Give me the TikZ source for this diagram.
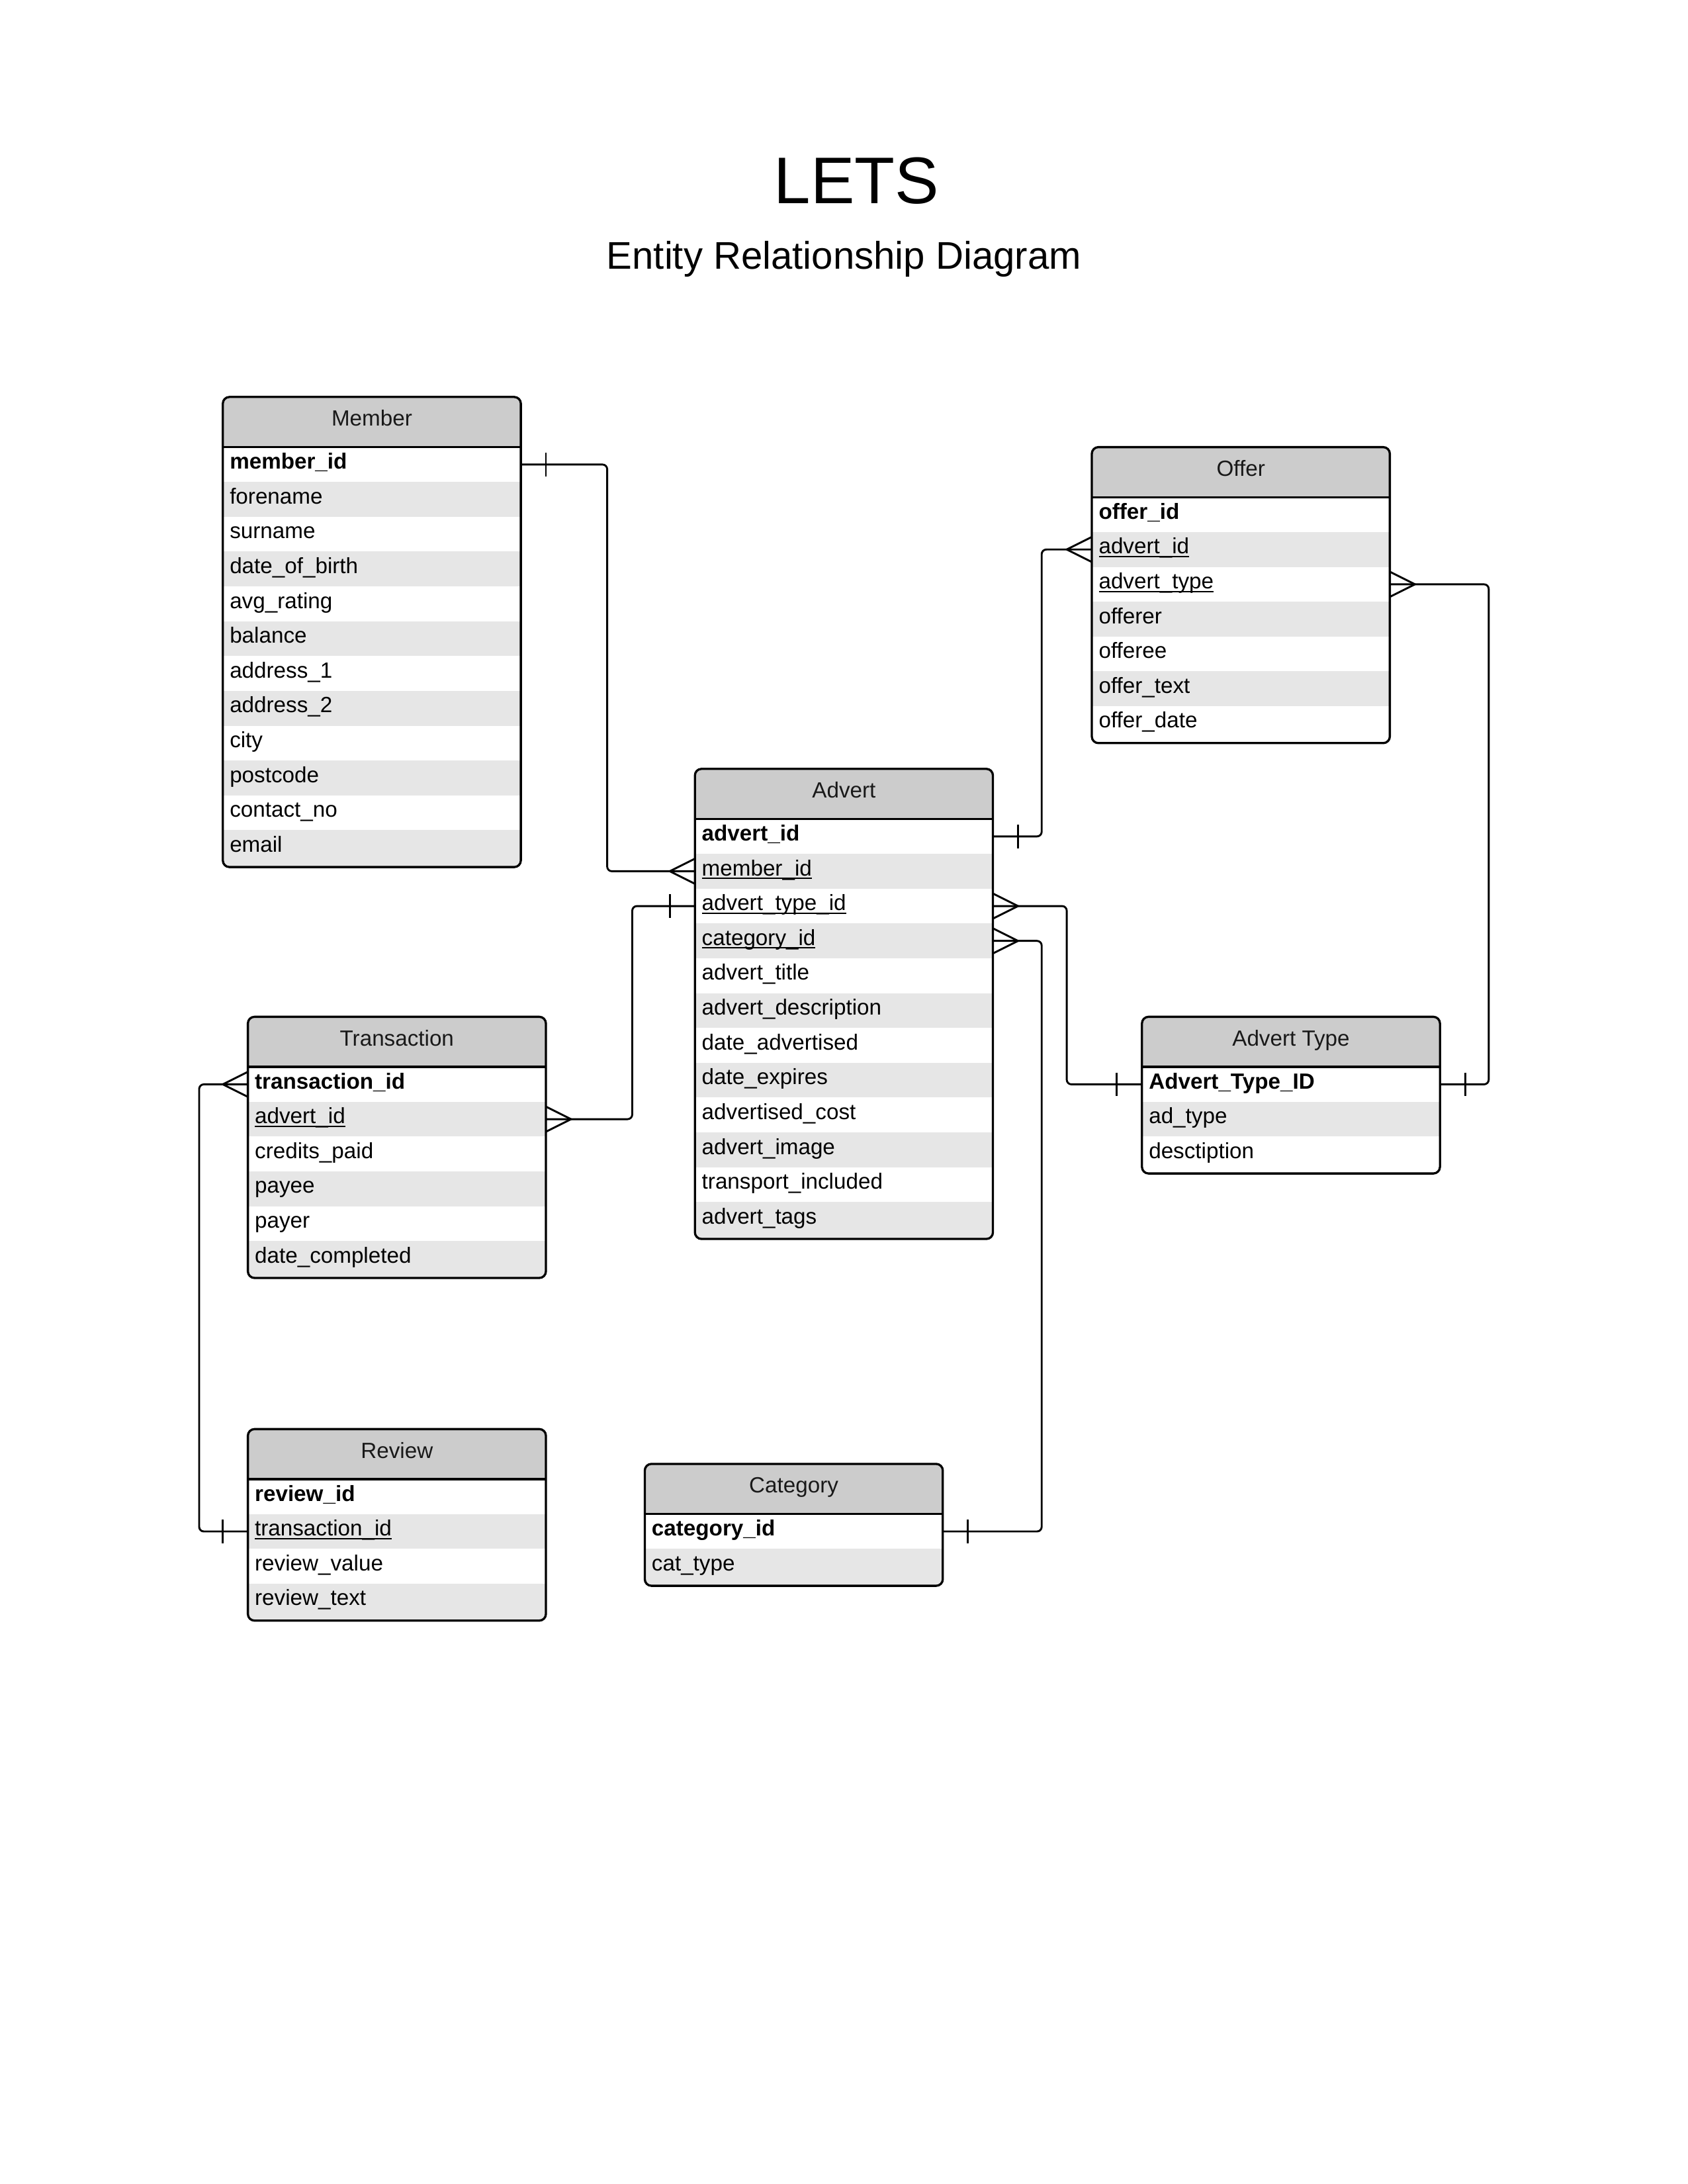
\documentclass[tikz,border=0pt]{standalone}
\usepackage{fontspec}
\setmainfont{Liberation Sans}
\usetikzlibrary{calc}

\definecolor{hdrgray}{HTML}{CCCCCC}
\definecolor{rowgray}{HTML}{E6E6E6}

% foreign key: text with a thin underline just under the baseline
\newcommand{\fkey}[1]{\setbox0=\hbox{#1}\rlap{\rule[-1.2pt]{\wd0}{0.45pt}}\box0}

\tikzset{
  rowcell/.style={rectangle, anchor=north west, minimum width=108.47pt,
    minimum height=12.67pt, text width=103.4pt, inner xsep=2.53pt,
    inner ysep=0pt, outer sep=0pt, align=left, text height=5.6pt,
    text depth=2.4pt, font=\fontsize{8}{9.6}\selectfont},
  hdrcell/.style={rectangle, anchor=north west, minimum width=108.47pt,
    minimum height=18.25pt, inner sep=0pt, outer sep=0pt, fill=hdrgray,
    text height=5.8pt, text depth=2.9pt,
    text=black!90, font=\fontsize{8}{9.6}\selectfont},
  tabline/.style={line width=0.8pt},
  conn/.style={line width=0.7pt, line join=round},
  route/.style={conn, rounded corners=1.7pt}
}

% entity table: #1 name, #2 title, #3 left, #4 top, #5 number of rows, #6 rows
\newcommand{\ertable}[6]{%
  \pgfmathsetmacro\tbot{#4+36+25*#5+1.5}%
  \pgfmathsetmacro\tright{#3+214}%
  \pgfmathsetmacro\thb{#4+36}%
  \begin{scope}
    \clip[rounded corners=2.4pt] (#3,#4) rectangle (\tright,\tbot);
    \ifodd#5 \def\lastfill{white}\else\def\lastfill{rowgray}\fi
    \fill[\lastfill] (#3,\thb) rectangle (\tright,\tbot);
    \node[hdrcell] (#1) at (#3,#4) {#2};
    \foreach \txt [count=\i] in {#6}{%
      \ifodd\i\def\rowfill{white}\else\def\rowfill{rowgray}\fi
      \node[rowcell, fill=\rowfill] (#1-\i) at (#3,{\thb+25*(\i-1)}) {\txt};
    }
  \end{scope}
  \draw[tabline] (#3,\thb) -- (\tright,\thb);
  \draw[tabline, rounded corners=2.4pt] (#3,#4) rectangle (\tright,\tbot);
}

% cardinality marks; #2 = +1 for a right-hand side, -1 for a left-hand side
\newcommand{\onebar}[2]{\draw[conn] ($(#1)+(#2*18,-8.5)$) -- ($(#1)+(#2*18,8.5)$);}
\newcommand{\crowfoot}[2]{\draw[conn] ($(#1)+(0,-9)$) -- ($(#1)+(#2*18,0)$) -- ($(#1)+(0,9)$);}

\begin{document}
\begin{tikzpicture}[x=0.50686pt, y=-0.50686pt]
  \fill[white] (0,0) rectangle (1212,1568);
  \useasboundingbox (0,0) rectangle (1212,1568);

  \node[font=\fontsize{24}{28}\selectfont, anchor=base] (title) at (615,146) {LETS};
  \node[font=\fontsize{14}{17}\selectfont, anchor=base] (subtitle) at (606,193) {Entity Relationship Diagram};

  \ertable{member}{Member}{160}{285}{12}{%
    {\textbf{member\_id}}, forename, surname, date\_of\_birth, avg\_rating,
    balance, address\_1, address\_2, city, postcode, contact\_no, email}

  \ertable{offer}{Offer}{784}{321}{7}{%
    {\textbf{offer\_id}}, {\fkey{advert\_id}}, {\fkey{advert\_type}},
    offerer, offeree, offer\_text, offer\_date}

  \ertable{advert}{Advert}{499}{552}{12}{%
    {\textbf{advert\_id}}, {\fkey{member\_id}}, {\fkey{advert\_type\_id}},
    {\fkey{category\_id}}, advert\_title, advert\_description,
    date\_advertised, date\_expires, advertised\_cost, advert\_image,
    transport\_included, advert\_tags}

  \ertable{trans}{Transaction}{178}{730}{6}{%
    {\textbf{transaction\_id}}, {\fkey{advert\_id}}, credits\_paid,
    payee, payer, date\_completed}

  \ertable{adtype}{Advert Type}{820}{730}{3}{%
    {\textbf{Advert\_Type\_ID}}, ad\_type, desctiption}

  \ertable{review}{Review}{178}{1026}{4}{%
    {\textbf{review\_id}}, {\fkey{transaction\_id}}, review\_value, review\_text}

  \ertable{category}{Category}{463}{1051}{2}{%
    {\textbf{category\_id}}, cat\_type}

  % bend positions of the relationship lines
  \coordinate (bendMA) at (436,0);
  \coordinate (bendAO) at (748,0);
  \coordinate (bendOT) at (1069,0);
  \coordinate (bendAT) at (766,0);
  \coordinate (bendAC) at (748,0);
  \coordinate (bendTA) at (454,0);
  \coordinate (bendTR) at (143,0);

  % Member -- Advert
  \draw[route] (member-1.east) -- (member-1.east -| bendMA) -- (advert-2.west -| bendMA) -- (advert-2.west);
  \onebar{member-1.east}{1}
  \crowfoot{advert-2.west}{-1}

  % Advert -- Offer
  \draw[route] (advert-1.east) -- (advert-1.east -| bendAO) -- (offer-2.west -| bendAO) -- (offer-2.west);
  \onebar{advert-1.east}{1}
  \crowfoot{offer-2.west}{-1}

  % Offer -- Advert Type
  \draw[route] (offer-3.east) -- (offer-3.east -| bendOT) -- (adtype-1.east -| bendOT) -- (adtype-1.east);
  \crowfoot{offer-3.east}{1}
  \onebar{adtype-1.east}{1}

  % Advert -- Advert Type
  \draw[route] (advert-3.east) -- (advert-3.east -| bendAT) -- (adtype-1.west -| bendAT) -- (adtype-1.west);
  \crowfoot{advert-3.east}{1}
  \onebar{adtype-1.west}{-1}

  % Advert -- Category
  \draw[route] (advert-4.east) -- (advert-4.east -| bendAC) -- (category-1.east -| bendAC) -- (category-1.east);
  \crowfoot{advert-4.east}{1}
  \onebar{category-1.east}{1}

  % Transaction -- Advert
  \draw[route] (trans-2.east) -- (trans-2.east -| bendTA) -- (advert-3.west -| bendTA) -- (advert-3.west);
  \crowfoot{trans-2.east}{1}
  \onebar{advert-3.west}{-1}

  % Transaction -- Review
  \draw[route] (trans-1.west) -- (trans-1.west -| bendTR) -- (review-2.west -| bendTR) -- (review-2.west);
  \crowfoot{trans-1.west}{-1}
  \onebar{review-2.west}{-1}
\end{tikzpicture}
\end{document}
